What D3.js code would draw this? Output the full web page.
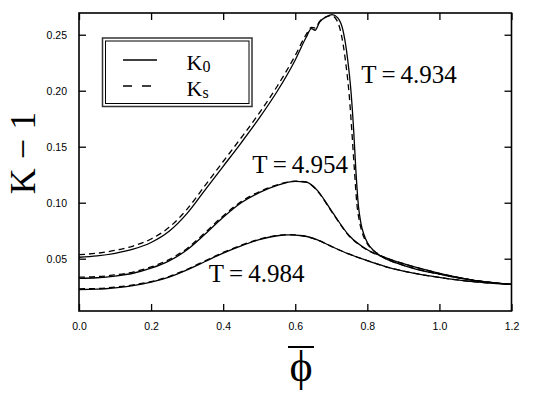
<!DOCTYPE html>
<html>
<head>
<meta charset="utf-8">
<script src="https://cdn.jsdelivr.net/npm/d3@7"></script>
<style>
  body { margin: 0; background: #fff; }
  svg { display: block; }
</style>
</head>
<body>
<div id="chart"></div>
<script>
// T = 4.934
const phiHighK0 = [0, 0.05, 0.10, 0.15, 0.20, 0.25, 0.30, 0.35, 0.40, 0.45, 0.50, 0.55, 0.60, 0.63, 0.645, 0.655, 0.668, 0.686, 0.703, 0.718, 0.732, 0.745, 0.755, 0.762, 0.768, 0.775, 0.782, 0.79, 0.80, 0.815, 0.83, 0.85, 0.88, 0.92, 0.96, 1.0, 1.05, 1.1, 1.15, 1.2];
const k0High = [0.0513, 0.0525, 0.0548, 0.0585, 0.0645, 0.0745, 0.0905, 0.1115, 0.1325, 0.1535, 0.1755, 0.1995, 0.2275, 0.2475, 0.2555, 0.2540, 0.2615, 0.2660, 0.2680, 0.2650, 0.2545, 0.2290, 0.1980, 0.1650, 0.1300, 0.0980, 0.0820, 0.0720, 0.0645, 0.0580, 0.0540, 0.0500, 0.0462, 0.0420, 0.0387, 0.0362, 0.0330, 0.0305, 0.0285, 0.0270];
const phiHighKs = [0, 0.05, 0.10, 0.15, 0.20, 0.25, 0.30, 0.35, 0.40, 0.45, 0.50, 0.55, 0.60, 0.63, 0.645, 0.655, 0.668, 0.686, 0.70, 0.715, 0.728, 0.74, 0.75, 0.757, 0.764, 0.771, 0.779, 0.787, 0.797, 0.812, 0.83, 0.85, 0.88, 0.92, 0.96, 1.0, 1.05, 1.1, 1.15, 1.2];
const ksHigh = [0.0536, 0.0549, 0.0574, 0.0613, 0.0676, 0.0780, 0.0943, 0.1155, 0.1368, 0.1580, 0.1800, 0.2040, 0.2315, 0.2500, 0.2565, 0.2560, 0.2620, 0.2660, 0.2672, 0.2630, 0.2500, 0.2250, 0.1950, 0.1640, 0.1300, 0.0990, 0.0820, 0.0720, 0.0650, 0.0585, 0.0543, 0.0502, 0.0464, 0.0422, 0.0389, 0.0363, 0.0331, 0.0306, 0.0286, 0.0271];

// T = 4.954
const phiMid = [0, 0.05, 0.10, 0.15, 0.20, 0.25, 0.30, 0.35, 0.40, 0.45, 0.50, 0.55, 0.60, 0.63, 0.66, 0.70, 0.75, 0.80, 0.85, 0.90, 1.0, 1.1, 1.2];
const k0Mid = [0.0325, 0.0330, 0.0345, 0.0370, 0.0415, 0.0480, 0.0580, 0.0720, 0.0870, 0.1000, 0.1090, 0.1155, 0.1190, 0.1185, 0.1115, 0.0930, 0.0705, 0.0580, 0.0510, 0.0455, 0.0370, 0.0305, 0.0270];
const ksMid = [0.0335, 0.0340, 0.0355, 0.0381, 0.0426, 0.0492, 0.0592, 0.0733, 0.0882, 0.1010, 0.1098, 0.1160, 0.1192, 0.1184, 0.1110, 0.0925, 0.0701, 0.0578, 0.0509, 0.0455, 0.0370, 0.0305, 0.0270];

// T = 4.984
const phiLow = [0, 0.05, 0.10, 0.15, 0.20, 0.25, 0.30, 0.35, 0.40, 0.45, 0.50, 0.55, 0.58, 0.62, 0.66, 0.70, 0.75, 0.80, 0.85, 0.90, 0.95, 1.0, 1.05, 1.1, 1.2];
const k0Low = [0.0225, 0.0228, 0.0240, 0.0260, 0.0290, 0.0335, 0.0400, 0.0475, 0.0550, 0.0615, 0.0670, 0.0705, 0.0713, 0.0705, 0.0670, 0.0610, 0.0540, 0.0482, 0.0430, 0.0390, 0.0358, 0.0333, 0.0310, 0.0293, 0.0270];
const ksLow = [0.0231, 0.0234, 0.0246, 0.0266, 0.0296, 0.0341, 0.0406, 0.0481, 0.0556, 0.0620, 0.0674, 0.0708, 0.0715, 0.0705, 0.0670, 0.0610, 0.0540, 0.0482, 0.0430, 0.0390, 0.0358, 0.0333, 0.0310, 0.0293, 0.0270];

const xTicks = [0, 0.2, 0.4, 0.6, 0.8, 1.0, 1.2];
const yTicks = [0.05, 0.10, 0.15, 0.20, 0.25];

const curveLabels = ["T = 4.934", "T = 4.954", "T = 4.984"];
const labelPhi = [0.783, 0.481, 0.360];
const labelK = [0.2069, 0.1264, 0.0292];

const legendNames = ["0", "s"];

const W = 545, H = 394;
const svg = d3.select("#chart").append("svg")
    .attr("width", W).attr("height", H);

const x = d3.scaleLinear().domain([0, 1.2]).range([79, 511.5]);
const y = d3.scaleLinear().domain([0.0033, 0.2694]).range([311, 13]);

const tickFont = "'Liberation Sans', Arial, sans-serif";
const serif = "'Liberation Serif', 'Times New Roman', serif";

// frame
svg.append("rect")
    .attr("x", x.range()[0]).attr("y", y.range()[1])
    .attr("width", x.range()[1] - x.range()[0])
    .attr("height", y.range()[0] - y.range()[1])
    .attr("fill", "none").attr("stroke", "#000").attr("stroke-width", 1.6);

// axes with inward ticks
const xb = svg.append("g").attr("transform", `translate(0,${y.range()[0]})`)
    .call(d3.axisBottom(x).tickValues(xTicks).tickSizeInner(-7).tickSizeOuter(0).tickPadding(12)
        .tickFormat(d3.format(".1f")));
const xt = svg.append("g").attr("transform", `translate(0,${y.range()[1]})`)
    .call(d3.axisTop(x).tickValues(xTicks).tickSizeInner(-7).tickSizeOuter(0).tickFormat(""));
const yl = svg.append("g").attr("transform", `translate(${x.range()[0]},0)`)
    .call(d3.axisLeft(y).tickValues(yTicks).tickSizeInner(-7).tickSizeOuter(0).tickPadding(12)
        .tickFormat(d3.format(".2f")));
const yr = svg.append("g").attr("transform", `translate(${x.range()[1]},0)`)
    .call(d3.axisRight(y).tickValues(yTicks).tickSizeInner(-7).tickSizeOuter(0).tickFormat(""));

[xb, xt, yl, yr].forEach(g => {
    g.select(".domain").remove();
    g.selectAll(".tick line").attr("stroke", "#000").attr("stroke-width", 1.3);
    g.selectAll("text").attr("font-family", tickFont).attr("font-size", 10.5).attr("fill", "#000");
});

// curves
const line = d3.line()
    .x(d => x(d[0]))
    .y(d => y(d[1]))
    .curve(d3.curveMonotoneX);

const series = [
    { phi: phiHighK0, k: k0High, dash: null },
    { phi: phiHighKs, k: ksHigh, dash: "6,4" },
    { phi: phiMid, k: k0Mid, dash: null },
    { phi: phiMid, k: ksMid, dash: "6,4" },
    { phi: phiLow, k: k0Low, dash: null },
    { phi: phiLow, k: ksLow, dash: "6,4" }
];

svg.append("g").selectAll("path")
    .data(series)
    .enter()
    .append("path")
    .attr("d", s => line(d3.zip(s.phi, s.k)))
    .attr("fill", "none")
    .attr("stroke", "#000")
    .attr("stroke-width", 1.3)
    .attr("stroke-dasharray", s => s.dash);

// curve labels
svg.append("g").selectAll("text")
    .data(curveLabels)
    .enter()
    .append("text")
    .attr("x", (d, i) => x(labelPhi[i]))
    .attr("y", (d, i) => y(labelK[i]))
    .attr("font-family", serif)
    .attr("font-size", 25)
    .text(d => d.replace(/ /g, "\u2009"));

// legend
const lg = svg.append("g").attr("transform", "translate(102.5,38)");
lg.append("rect").attr("width", 149.5).attr("height", 68.5)
    .attr("fill", "#fff").attr("stroke", "#333").attr("stroke-width", 1.5);
lg.append("rect").attr("x", 3).attr("y", 3).attr("width", 143.5).attr("height", 62.5)
    .attr("fill", "none").attr("stroke", "#000").attr("stroke-width", 1);

legendNames.forEach((name, i) => {
    const ly = 22 + i * 26;
    lg.append("line")
        .attr("x1", 20.5).attr("x2", 54.5).attr("y1", ly).attr("y2", ly)
        .attr("stroke", "#000").attr("stroke-width", 1.3)
        .attr("stroke-dasharray", i === 1 ? "9,10" : null);
    const t = lg.append("text")
        .attr("x", 84).attr("y", ly + 10)
        .attr("font-family", serif).attr("font-size", 22);
    t.append("tspan").text("K");
    t.append("tspan").attr("font-size", 16).attr("dy", 2).text(name);
});

// axis titles
svg.append("text")
    .attr("transform", "translate(35,153) rotate(-90)")
    .attr("text-anchor", "middle")
    .attr("font-family", serif)
    .attr("font-size", 36)
    .text("K \u2212 1");

const phiLabel = svg.append("text")
    .attr("x", 301).attr("y", 381)
    .attr("text-anchor", "middle")
    .attr("font-family", serif)
    .attr("font-size", 44)
    .text("\u03D5");
svg.append("line")
    .attr("x1", 288).attr("x2", 314).attr("y1", 347).attr("y2", 347)
    .attr("stroke", "#000").attr("stroke-width", 2);
</script>
</body>
</html>
